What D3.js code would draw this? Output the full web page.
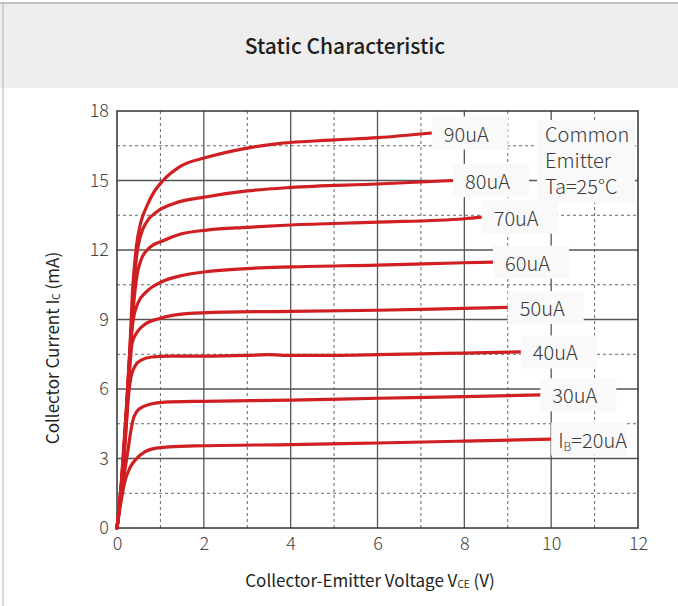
<!DOCTYPE html>
<html>
<head>
<meta charset="utf-8">
<script src="https://cdn.jsdelivr.net/npm/d3@7"></script>
<style>
  html, body { margin: 0; padding: 0; background: #fff; }
  svg { display: block; font-family: "Noto Sans CJK SC", "Noto Sans", sans-serif; }
</style>
</head>
<body>
<svg id="chart" width="678" height="606"></svg>
<script>
// ---- data ----
const xTicks = [0, 2, 4, 6, 8, 10, 12];
const yTicks = [0, 3, 6, 9, 12, 15, 18];
const seriesNames = ["20uA", "30uA", "40uA", "50uA", "60uA", "70uA", "80uA", "90uA"];
const ib20 = [[0,0],[0.08,1.0],[0.18,2.0],[0.3,2.6],[0.45,3.0],[0.65,3.3],[0.9,3.45],[1.2,3.5],[2,3.55],[4,3.6],[6,3.67],[8,3.75],[10,3.84]];
const ib30 = [[0,0],[0.1,1.5],[0.24,3.2],[0.32,4.2],[0.39,4.8],[0.52,5.15],[0.78,5.35],[1.1,5.43],[2,5.47],[4,5.52],[6,5.6],[8,5.67],[9.75,5.75]];
const ib40 = [[0,0],[0.1,1.6],[0.2,4.0],[0.26,5.6],[0.32,6.5],[0.42,7.0],[0.56,7.25],[0.8,7.38],[1.2,7.42],[2,7.42],[3,7.45],[3.5,7.48],[4,7.45],[5,7.45],[6,7.48],[7,7.52],[8,7.55],[9.3,7.6]];
const ib50 = [[0,0],[0.1,1.7],[0.2,4.2],[0.28,6.5],[0.35,8.0],[0.48,8.5],[0.65,8.8],[1.0,9.05],[1.6,9.25],[2.5,9.32],[4,9.35],[6,9.4],[8,9.48],[9,9.52]];
const ib60 = [[0,0],[0.1,1.8],[0.2,4.4],[0.28,7.0],[0.36,8.8],[0.48,9.7],[0.68,10.2],[1.0,10.6],[1.5,10.9],[2,11.05],[3,11.2],[4,11.27],[6,11.35],[8,11.45],[8.66,11.48]];
const ib70 = [[0,0],[0.1,1.8],[0.2,4.5],[0.3,7.5],[0.38,9.6],[0.46,10.9],[0.56,11.6],[0.75,12.1],[1.06,12.4],[1.45,12.68],[2.07,12.86],[3,12.98],[4,13.08],[6,13.2],[8,13.35],[8.4,13.42]];
const ib80 = [[0,0],[0.1,1.9],[0.2,4.6],[0.3,7.8],[0.38,10.1],[0.45,11.7],[0.54,12.6],[0.68,13.2],[0.92,13.65],[1.3,14.0],[2.07,14.3],[3,14.55],[4,14.7],[6,14.85],[7.74,15.0]];
const ib90 = [[0,0],[0.1,2.0],[0.2,4.7],[0.29,7.5],[0.36,10.3],[0.45,12.2],[0.55,13.2],[0.69,13.9],[0.85,14.5],[1.06,15.0],[1.45,15.6],[2.07,16.0],[3,16.4],[3.75,16.6],[5,16.75],[6,16.85],[7.25,17.05]];
const seriesData = [ib20, ib30, ib40, ib50, ib60, ib70, ib80, ib90];
const noteLines = ["Common", "Emitter", "Ta=25°C"];

// ---- layout ----
const W = 678, H = 606;
const svg = d3.select("#chart");
const x = d3.scaleLinear().domain([0, 12]).range([117, 638]);
const y = d3.scaleLinear().domain([0, 18]).range([528, 111]);

// header band
svg.append("rect").attr("x", 0).attr("y", 3).attr("width", W).attr("height", 85).attr("fill", "#eeeeee");
svg.append("line").attr("x1", 0).attr("x2", W).attr("y1", 3).attr("y2", 3).attr("stroke", "#c4c4c4").attr("stroke-width", 2);
svg.append("line").attr("x1", 3).attr("x2", 3).attr("y1", 3).attr("y2", H).attr("stroke", "#b4b4b4").attr("stroke-width", 1);
svg.append("text").attr("x", 345).attr("y", 45).attr("text-anchor", "middle").attr("dominant-baseline", "central")
  .attr("font-size", 21).attr("font-weight", 500).attr("fill", "#231f20").text("Static Characteristic");

// grid
const g = svg.append("g");
d3.range(1, 12).forEach(v => {
  const solid = v % 2 === 0;
  g.append("line").attr("x1", x(v)).attr("x2", x(v)).attr("y1", y(18)).attr("y2", y(0))
    .attr("stroke", solid ? "#555" : "#666").attr("stroke-width", solid ? 1.3 : 1)
    .attr("stroke-dasharray", solid ? null : "3,3");
});
d3.range(1, 12).forEach(i => {
  const v = i * 1.5;
  const solid = i % 2 === 0;
  g.append("line").attr("x1", x(0)).attr("x2", x(12)).attr("y1", y(v)).attr("y2", y(v))
    .attr("stroke", solid ? "#555" : "#666").attr("stroke-width", solid ? 1.3 : 1)
    .attr("stroke-dasharray", solid ? null : "3,3");
});
g.append("rect").attr("x", x(0)).attr("y", y(18)).attr("width", x(12) - x(0)).attr("height", y(0) - y(18))
  .attr("fill", "none").attr("stroke", "#333").attr("stroke-width", 1.5);

// axes (labels only)
const xAxis = d3.axisBottom(x).tickValues(xTicks).tickSize(0).tickPadding(9).tickFormat(d3.format("d"));
const xa = svg.append("g").attr("transform", `translate(0,${y(0)})`).call(xAxis);
xa.select(".domain").remove();
xa.selectAll("text").attr("font-size", 18).attr("font-weight", 300).attr("fill", "#444")
  .attr("font-family", "'Noto Sans CJK SC', 'Noto Sans', sans-serif");

const yAxis = d3.axisLeft(y).tickValues(yTicks).tickSize(0).tickPadding(8).tickFormat(d3.format("d"));
const ya = svg.append("g").attr("transform", `translate(${x(0)},0)`).call(yAxis);
ya.select(".domain").remove();
ya.selectAll("text").attr("font-size", 18).attr("font-weight", 300).attr("fill", "#444")
  .attr("font-family", "'Noto Sans CJK SC', 'Noto Sans', sans-serif");

// axis titles
const xt = svg.append("text").attr("x", 370).attr("y", 579).attr("text-anchor", "middle").attr("dominant-baseline", "central")
  .attr("font-size", 17).attr("fill", "#231f20");
xt.append("tspan").text("Collector-Emitter Voltage V");
xt.append("tspan").attr("font-size", 10).attr("dy", 4).text("CE");
xt.append("tspan").attr("dy", -4).text(" (V)");

const yt = svg.append("text").attr("transform", "translate(51,348) rotate(-90)").attr("text-anchor", "middle")
  .attr("dominant-baseline", "central").attr("font-size", 17).attr("fill", "#231f20");
yt.append("tspan").text("Collector Current I");
yt.append("tspan").attr("font-size", 10).attr("dy", 4).text("C");
yt.append("tspan").attr("dy", -4).text(" (mA)");

// curves
const line = d3.line().x(d => x(d[0])).y(d => y(d[1])).curve(d3.curveMonotoneX);
svg.append("g").selectAll("path").data(seriesData).join("path")
  .attr("d", line).attr("fill", "none").attr("stroke", "#d01f22").attr("stroke-width", 3.2)
  .attr("stroke-linecap", "round").attr("stroke-linejoin", "round");

// labels
const lg = svg.append("g");
seriesData.forEach((s, i) => {
  const last = s[s.length - 1];
  const lx = x(last[0]), ly = y(last[1]);
  const isFirst = i === 0;
  const bw = 76;
  lg.append("rect").attr("x", lx).attr("y", ly - 16.5).attr("width", bw).attr("height", 33).attr("fill", "#f9f9f9");
  const t = lg.append("text").attr("x", lx + 12).attr("y", ly).attr("dominant-baseline", "central")
    .attr("font-size", 20).attr("font-weight", 300).attr("fill", "#3a3a3a");
  if (isFirst) {
    t.attr("x", lx + 7);
    t.append("tspan").text("I");
    t.append("tspan").attr("font-size", 12).attr("dy", 6).text("B");
    t.append("tspan").attr("dy", -6).text("=" + seriesNames[i]);
  } else {
    t.text(seriesNames[i]);
  }
});

// note box (one multi-line text)
lg.append("rect").attr("x", 537).attr("y", 120).attr("width", 98).attr("height", 83).attr("fill", "#f9f9f9");
const note = lg.append("text").attr("x", 545).attr("y", 142)
  .attr("font-size", 20).attr("font-weight", 300).attr("fill", "#3a3a3a");
noteLines.forEach((s, i) => {
  note.append("tspan").attr("x", 545).attr("dy", i === 0 ? 0 : 26).text(s);
});
</script>
</body>
</html>
